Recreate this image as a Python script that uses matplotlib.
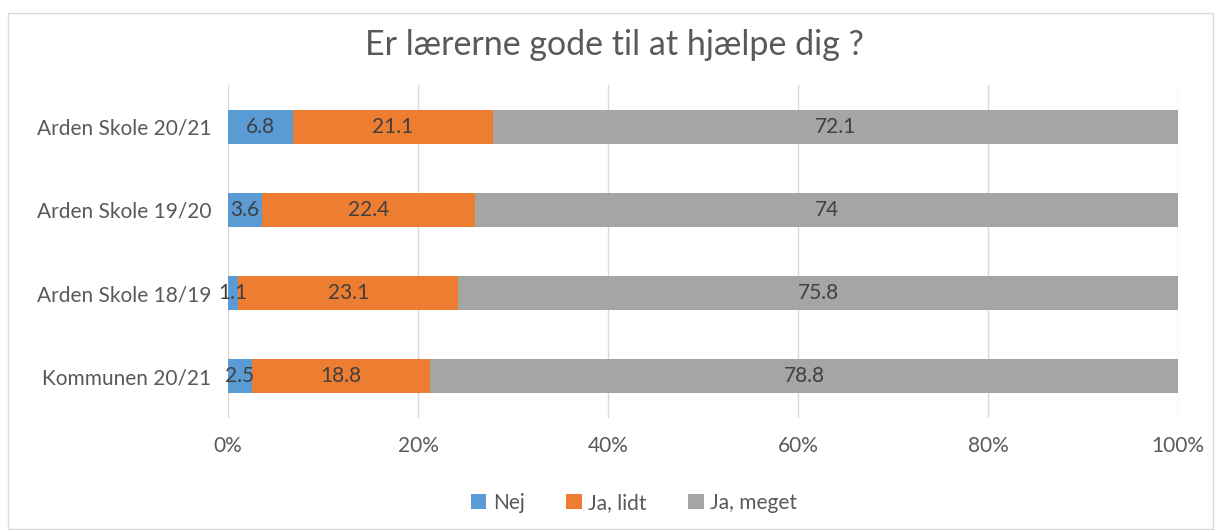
import matplotlib.pyplot as plt
from matplotlib.patches import Rectangle
import numpy as np

plt.rcParams['font.family'] = ['Lato', 'DejaVu Sans']

# data
categories = ['Kommunen 20/21', 'Arden Skole 18/19', 'Arden Skole 19/20', 'Arden Skole 20/21']
nej = [2.5, 1.1, 3.6, 6.8]
ja_lidt = [18.8, 23.1, 22.4, 21.1]
ja_meget = [78.8, 75.8, 74, 72.1]
nej_labels = ['2.5', '1.1', '3.6', '6.8']
lidt_labels = ['18.8', '23.1', '22.4', '21.1']
meget_labels = ['78.8', '75.8', '74', '72.1']
series = ['Nej', 'Ja, lidt', 'Ja, meget']
colors = ['#5B9BD5', '#ED7D31', '#A5A5A5']

fig = plt.figure(figsize=(12.15, 5.3), dpi=100)
ax = fig.add_axes([228 / 1215, 1 - 418 / 530, 950 / 1215, 333 / 530])

# border of chart area
fig.patches.append(Rectangle((8 / 1215, 0.002), 1205 / 1215, 1 - 13 / 530 - 0.002,
                             transform=fig.transFigure, fill=False, edgecolor='#D9D9D9', lw=1))

y = np.arange(len(categories))
vals = [nej, ja_lidt, ja_meget]
labels = [nej_labels, lidt_labels, meget_labels]
total = np.array(nej) + np.array(ja_lidt) + np.array(ja_meget)
left = np.zeros(len(categories))
for v, lab, c, name in zip(vals, labels, colors, series):
    w = np.array(v, dtype=float) / total * 100
    bars = ax.barh(y, w, left=left, height=0.41, color=c, label=name)
    ax.bar_label(bars, labels=lab, label_type='center', color='#404040', fontsize=15)
    left += w

ax.set_xlim(0, 100)
ax.set_ylim(-0.5, 3.5)
ax.set_xticks([0, 20, 40, 60, 80, 100])
ax.set_xticklabels(['0%', '20%', '40%', '60%', '80%', '100%'])
ax.set_yticks(y)
ax.set_yticklabels(categories)
ax.tick_params(axis='both', length=0, labelsize=15, colors='#595959')
ax.tick_params(axis='x', pad=13)
ax.tick_params(axis='y', pad=12)
ax.grid(axis='x', color='#D9D9D9', lw=1)
ax.set_axisbelow(True)
for s in ax.spines.values():
    s.set_visible(False)

fig.text(614 / 1215, 1 - 45 / 530, 'Er lærerne gode til at hjælpe dig ?', ha='center', va='center',
         fontsize=24.5, color='#595959')

fig.legend(loc='center', bbox_to_anchor=(634 / 1215, 1 - 503 / 530), ncol=3, frameon=False,
           fontsize=15, labelcolor='#595959', handlelength=0.75, handleheight=0.75,
           handletextpad=0.3, columnspacing=2.0)

plt.savefig('out.png', dpi=100)
